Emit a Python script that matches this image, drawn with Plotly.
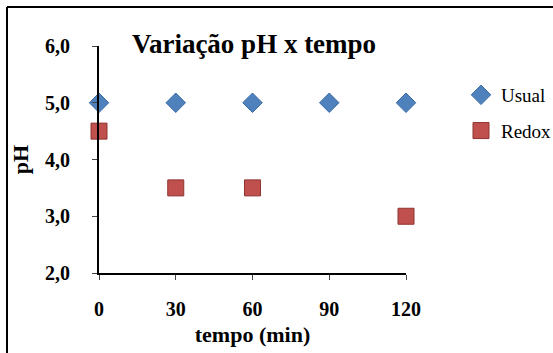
import plotly.graph_objects as go

tempo = [0, 30, 60, 90, 120]
usual_ph = [5.0, 5.0, 5.0, 5.0, 5.0]
redox_tempo = [0, 30, 60, 120]
redox_ph = [4.5, 3.5, 3.5, 3.0]
x_ticks = [0, 30, 60, 90, 120]
y_ticks = [2.0, 3.0, 4.0, 5.0, 6.0]
x_labels = [str(v) for v in x_ticks]
y_labels = [f"{v:.1f}".replace(".", ",") for v in y_ticks]

W, H = 553, 353
L, R, T, B = 99, 147, 46, 80
pw, ph = W - L - R, H - T - B

def px(x):
    return (x - L) / pw

def py(y):
    return (H - B - y) / ph

font = "Liberation Serif, Times New Roman, serif"

fig = go.Figure()
fig.add_trace(go.Scatter(
    x=tempo, y=usual_ph, mode="markers", name="Usual", legendgroup="a",
    marker=dict(symbol="diamond", size=15, color="#4F81BD",
                line=dict(color="#3A6BA5", width=1)),
    cliponaxis=False,
))
fig.add_trace(go.Scatter(
    x=redox_tempo, y=redox_ph, mode="markers", name="Redox", legendgroup="b",
    marker=dict(symbol="square", size=16, color="#C0504D",
                line=dict(color="#8E3431", width=1)),
    cliponaxis=False,
))

fig.update_layout(
    width=W, height=H,
    margin=dict(l=L, r=R, t=T, b=B, autoexpand=False),
    paper_bgcolor="white", plot_bgcolor="white",
    font=dict(family=font, color="black"),
    title=dict(text="<b>Variação pH x tempo</b>", font=dict(size=27, family=font),
               x=254 / W, xanchor="center", y=1 - 44 / H, yanchor="middle"),
    xaxis=dict(range=[0, 120], tickvals=x_ticks, ticktext=["<b>%s</b>" % t for t in x_labels],
               ticks="outside", ticklen=5,
               showline=True, linecolor="black", linewidth=2, showgrid=False,
               zeroline=False, tickfont=dict(size=20, family=font),
               ticklabelstandoff=12,
               title=dict(text="<b>tempo (min)</b>", font=dict(size=22, family=font), standoff=8)),
    yaxis=dict(range=[2, 6], tickvals=y_ticks, ticktext=["<b>%s</b>" % t for t in y_labels],
               ticks="outside", ticklen=5,
               showline=True, linecolor="black", linewidth=2, showgrid=False,
               zeroline=False, tickfont=dict(size=20, family=font),
               ticklabelstandoff=18,
               title=dict(text="<b>pH</b>", font=dict(size=22, family=font), standoff=10)),
    legend=dict(x=px(461), y=py(76), xanchor="left", yanchor="top",
                font=dict(size=19, family=font), tracegroupgap=8,
                itemwidth=30, bgcolor="rgba(0,0,0,0)"),
    shapes=[
        dict(type="line", xref="paper", yref="paper", x0=px(7), x1=px(560),
             y0=py(7), y1=py(7), line=dict(color="black", width=2)),
        dict(type="line", xref="paper", yref="paper", x0=px(7), x1=px(7),
             y0=py(7), y1=py(360), line=dict(color="black", width=2)),
    ],
)

fig.write_html("out.html")
